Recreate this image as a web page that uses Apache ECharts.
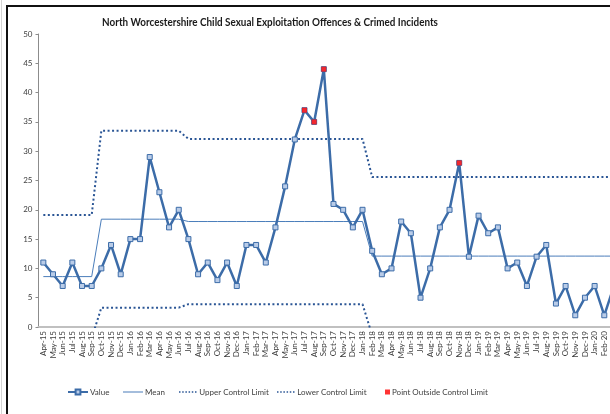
<!DOCTYPE html>
<html>
<head>
<meta charset="utf-8">
<script src="https://cdn.jsdelivr.net/npm/echarts@6/dist/echarts.min.js"></script>
<style>
html,body{margin:0;padding:0;background:#fff;}
#c{width:610px;height:414px;}
</style>
</head>
<body>
<div id="c"></div>
<script>
const categories = ['Apr-15','May-15','Jun-15','Jul-15','Aug-15','Sep-15','Oct-15','Nov-15','Dec-15','Jan-16','Feb-16','Mar-16','Apr-16','May-16','Jun-16','Jul-16','Aug-16','Sep-16','Oct-16','Nov-16','Dec-16','Jan-17','Feb-17','Mar-17','Apr-17','May-17','Jun-17','Jul-17','Aug-17','Sep-17','Oct-17','Nov-17','Dec-17','Jan-18','Feb-18','Mar-18','Apr-18','May-18','Jun-18','Jul-18','Aug-18','Sep-18','Oct-18','Nov-18','Dec-18','Jan-19','Feb-19','Mar-19','Apr-19','May-19','Jun-19','Jul-19','Aug-19','Sep-19','Oct-19','Nov-19','Dec-19','Jan-20','Feb-20','Mar-20'];

const values = [11,9,7,11,7,7,10,14,9,15,15,29,23,17,20,15,9,11,8,11,7,14,14,11,17,24,32,37,35,44,21,20,17,20,13,9,10,18,16,5,10,17,20,28,12,19,16,17,10,11,7,12,14,4,7,2,5,7,2,7];

const meanValues = [8.6,8.6,8.6,8.6,8.6,8.6,
  18.4,18.4,18.4,18.4,18.4,18.4,18.4,18.4,18.4,
  18.0,18.0,18.0,18.0,18.0,18.0,18.0,18.0,18.0,18.0,18.0,18.0,18.0,18.0,18.0,18.0,18.0,18.0,18.0,
  12.1,12.1,12.1,12.1,12.1,12.1,12.1,12.1,12.1,12.1,12.1,12.1,12.1,12.1,12.1,12.1,12.1,12.1,12.1,12.1,12.1,12.1,12.1,12.1,12.1,12.1];

const uclValues = [19.1,19.1,19.1,19.1,19.1,19.1,
  33.5,33.5,33.5,33.5,33.5,33.5,33.5,33.5,33.5,
  32.1,32.1,32.1,32.1,32.1,32.1,32.1,32.1,32.1,32.1,32.1,32.1,32.1,32.1,32.1,32.1,32.1,32.1,32.1,
  25.6,25.6,25.6,25.6,25.6,25.6,25.6,25.6,25.6,25.6,25.6,25.6,25.6,25.6,25.6,25.6,25.6,25.6,25.6,25.6,25.6,25.6,25.6,25.6,25.6,25.6];

const lclValues = [-1.9,-1.9,-1.9,-1.9,-1.9,-1.9,
  3.3,3.3,3.3,3.3,3.3,3.3,3.3,3.3,3.3,
  3.9,3.9,3.9,3.9,3.9,3.9,3.9,3.9,3.9,3.9,3.9,3.9,3.9,3.9,3.9,3.9,3.9,3.9,3.9,
  -1.4,-1.4,-1.4,-1.4,-1.4,-1.4,-1.4,-1.4,-1.4,-1.4,-1.4,-1.4,-1.4,-1.4,-1.4,-1.4,-1.4,-1.4,-1.4,-1.4,-1.4,-1.4,-1.4,-1.4,-1.4,-1.4];

// points outside control limits (category, value)
const outsidePoints = [['Jul-17',37],['Aug-17',35],['Sep-17',44],['Nov-18',28]];

const yTicks = {min:0, max:50, interval:5};

const FONT2 = 'Lato, "Open Sans", sans-serif';
const lineBlue = '#3C6CA8';
const dotBlue = '#2A5595';

// legend icons (20 x 6 box)
const ICON_LINE = 'path://M0,0L0.01,0L0.01,0.01ZM0,6L0.01,6L0.01,5.99ZM0,2.5L20,2.5L20,3.5L0,3.5Z';
let dots = 'path://M0,0L0.01,0L0.01,0.01ZM0,6L0.01,6L0.01,5.99Z';
for (let k = 0; k < 6; k++) { const x = 1 + k * 3.2; dots += 'M' + x + ',2.2L' + (x + 1.5) + ',2.2L' + (x + 1.5) + ',3.7L' + x + ',3.7Z'; }

const chart = echarts.init(document.getElementById('c'), null, {renderer:'canvas'});

function legendItem(name, left, w, h, icon) {
  const d = icon ? {name:name, icon:icon} : name;
  return {
    data:[d], left:left, top:388, itemWidth:w, itemHeight:h, itemGap:0,
    selectedMode:false, padding:0,
    textStyle:{fontFamily:FONT2, fontSize:8, color:'#404040', padding:[0,0,0,-3]}
  };
}

chart.setOption({
  animation:false,
  backgroundColor:'#fff',
  graphic:[
    {type:'rect', shape:{x:1, y:0, width:1, height:414}, style:{fill:'#d4d4d4'}},
    {type:'rect', shape:{x:6, y:5, width:2, height:409}, style:{fill:'#111'}},
    {type:'rect', shape:{x:6, y:5, width:604, height:2}, style:{fill:'#111'}},
    {type:'text', x:270, y:16, scaleX:0.823, originX:0, originY:0,
      style:{text:'North Worcestershire Child Sexual Exploitation Offences & Crimed Incidents', font:'bold 12px ' + FONT2, fill:'#1a1a1a', textAlign:'center'}}
  ],
  legend:[
    legendItem('Value', 67, 20, 6),
    legendItem('Mean', 123, 20, 6, ICON_LINE),
    legendItem('Upper Control Limit', 178, 20, 6, dots),
    legendItem('Lower Control Limit', 276, 20, 6, dots),
    legendItem('Point Outside Control Limit', 385, 5, 5)
  ],
  grid:{left:38.5, top:34, width:580.3, height:293, containLabel:false, outerBoundsMode:'none'},
  xAxis:{
    type:'category', data:categories, boundaryGap:true,
    axisLine:{lineStyle:{color:'#c0c0c0', width:2}},
    axisTick:{show:false},
    axisLabel:{interval:0, rotate:90, fontFamily:FONT2, fontSize:8, color:'#404040', margin:4}
  },
  yAxis:{
    type:'value', min:yTicks.min, max:yTicks.max, interval:yTicks.interval,
    splitLine:{show:false},
    axisLine:{show:true, lineStyle:{color:'#8c8c8c', width:1}},
    axisTick:{show:true, length:3, lineStyle:{color:'#8c8c8c'}},
    axisLabel:{fontFamily:FONT2, fontSize:8, color:'#404040', margin:6}
  },
  series:[
    {name:'Upper Control Limit', type:'line', data:uclValues, symbol:'none', clip:true,
      lineStyle:{color:dotBlue, width:2, type:[2,2.5]}, itemStyle:{color:dotBlue}, z:2},
    {name:'Lower Control Limit', type:'line', data:lclValues, symbol:'none', clip:true,
      lineStyle:{color:dotBlue, width:2, type:[2,2.5]}, itemStyle:{color:dotBlue}, z:2},
    {name:'Mean', type:'line', data:meanValues, symbol:'none',
      lineStyle:{color:'#4A7DBA', width:1}, itemStyle:{color:'#4A7DBA'}, z:3},
    {name:'Value', type:'line', data:values, symbol:'rect', symbolSize:5, showAllSymbol:true,
      lineStyle:{color:lineBlue, width:2.5}, itemStyle:{color:'#B9CCE8', borderColor:lineBlue, borderWidth:1}, z:4},
    {name:'Point Outside Control Limit', type:'scatter', data:outsidePoints, symbol:'rect', symbolSize:5,
      itemStyle:{color:'#FF0000'}, z:5}
  ]
});
</script>
</body>
</html>
